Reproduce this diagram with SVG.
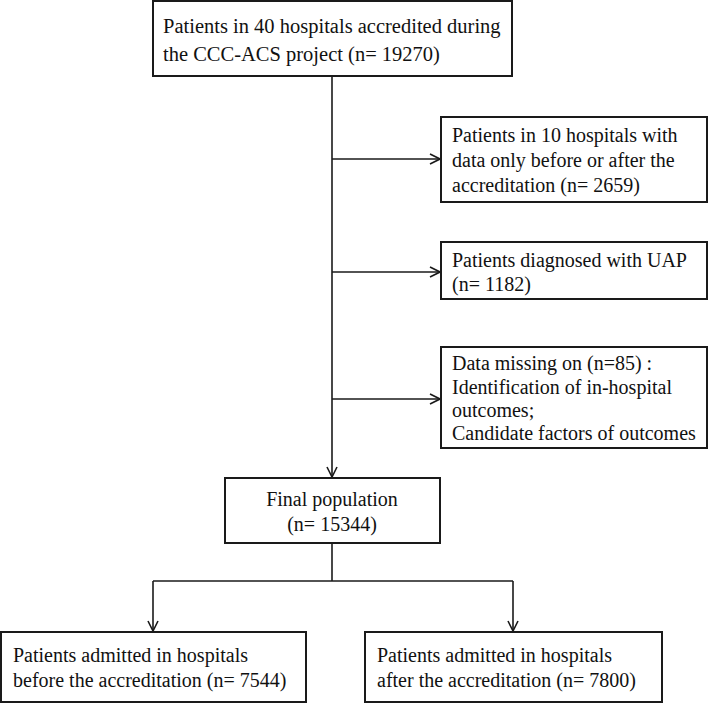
<svg xmlns="http://www.w3.org/2000/svg" width="709" height="703" viewBox="0 0 709 703">
<defs>
<marker id="arr" viewBox="0 0 12 12" refX="11" refY="6" markerWidth="12" markerHeight="12" markerUnits="userSpaceOnUse" orient="auto">
<path d="M1,1 L11,6 L1,11" fill="none" stroke="#1a1a1a" stroke-width="1.6"/>
</marker>
<style>
.box{fill:#fff;stroke:#1a1a1a;stroke-width:2}
.t{font-family:"Liberation Serif","Times New Roman",serif;font-size:20px;fill:#111}
.big{font-size:20.5px}
.c{text-anchor:middle}
.ln{fill:none;stroke:#1a1a1a;stroke-width:1.6}
</style>
</defs>
<rect width="709" height="703" fill="#fff"/>
<g id="connectors">
<line class="ln" x1="332" y1="76" x2="332" y2="477" marker-end="url(#arr)"/>
<line class="ln" x1="332" y1="159" x2="440" y2="159" marker-end="url(#arr)"/>
<line class="ln" x1="332" y1="272" x2="440" y2="272" marker-end="url(#arr)"/>
<line class="ln" x1="332" y1="399" x2="440" y2="399" marker-end="url(#arr)"/>
<line class="ln" x1="332" y1="543" x2="332" y2="581"/>
<line class="ln" x1="153" y1="581" x2="513" y2="581"/>
<line class="ln" x1="153" y1="581" x2="153" y2="631" marker-end="url(#arr)"/>
<line class="ln" x1="513" y1="581" x2="513" y2="631" marker-end="url(#arr)"/>
</g>
<g id="n1">
<rect class="box" x="153" y="1" width="359" height="75"/>
<text class="t big" x="163" y="33">Patients in 40 hospitals accredited during</text>
<text class="t big" x="163" y="61">the CCC-ACS project (n= 19270)</text>
</g>
<g id="n2">
<rect class="box" x="441" y="117" width="266" height="85"/>
<text class="t" x="452" y="142">Patients in 10 hospitals with</text>
<text class="t" x="452" y="167">data only before or after the</text>
<text class="t" x="452" y="192">accreditation (n= 2659)</text>
</g>
<g id="n3">
<rect class="box" x="441" y="242" width="266" height="57"/>
<text class="t" x="452" y="267">Patients diagnosed with UAP</text>
<text class="t" x="452" y="291">(n= 1182)</text>
</g>
<g id="n4">
<rect class="box" x="441" y="347" width="266" height="101"/>
<text class="t" x="452" y="370">Data missing on (n=85) :</text>
<text class="t" x="452" y="394">Identification of in-hospital</text>
<text class="t" x="452" y="417">outcomes;</text>
<text class="t" x="452" y="440">Candidate factors of outcomes</text>
</g>
<g id="n5">
<rect class="box" x="225" y="478" width="215" height="65"/>
<text class="t c" x="332" y="506">Final population</text>
<text class="t c" x="332" y="531">(n= 15344)</text>
</g>
<g id="n6">
<rect class="box" x="1" y="632" width="305" height="70"/>
<text class="t" x="13" y="662">Patients admitted in hospitals</text>
<text class="t" x="13" y="687">before the accreditation (n= 7544)</text>
</g>
<g id="n7">
<rect class="box" x="365" y="632" width="297" height="70"/>
<text class="t" x="377" y="662">Patients admitted in hospitals</text>
<text class="t" x="377" y="687">after the accreditation (n= 7800)</text>
</g>
</svg>
